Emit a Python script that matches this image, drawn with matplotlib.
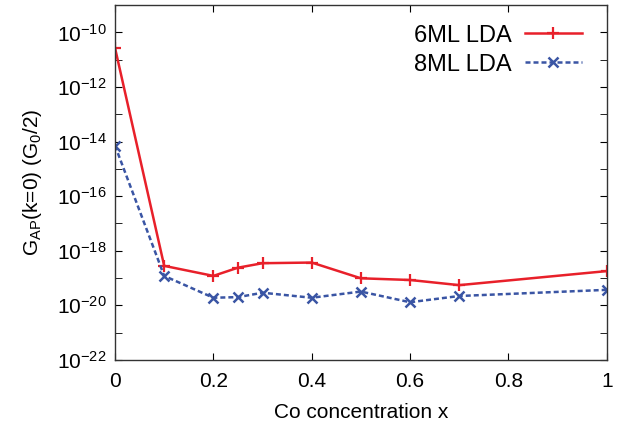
import numpy as np
import matplotlib
matplotlib.use("Agg")
import matplotlib.pyplot as plt
from matplotlib.ticker import FixedLocator, NullFormatter

plt.rcParams['font.family'] = ['Liberation Sans', 'DejaVu Sans']

# Co concentration
x = [0.0, 0.1, 0.2, 0.25, 0.3, 0.4, 0.5, 0.6, 0.7, 1.0]
# G_AP(k=0) in units of G0/2
g_6ml = [2.7e-11, 2.8e-19, 1.2e-19, 2.4e-19, 3.5e-19, 3.7e-19, 9.8e-20, 8.5e-20, 5.5e-20, 1.8e-19]
g_8ml = [7.1e-15, 1.2e-19, 1.9e-20, 2.0e-20, 2.9e-20, 1.9e-20, 3.2e-20, 1.3e-20, 2.2e-20, 3.7e-20]

fig = plt.figure(figsize=(6.32, 4.29), dpi=100)
ax = fig.add_axes([0.182, 0.161, 0.778, 0.827])

ax.plot(x, g_6ml, color='#e8202a', lw=1.8, marker='+', ms=9, mew=1.6, label='6ML LDA')
ax.plot(x, g_8ml, color='#3a55a4', lw=1.8, ls=(0, (2, 1.2)), marker='x', ms=7, mew=1.8, label='8ML LDA')

ax.set_yscale('log')
ax.set_xlim(0, 1)
ax.set_ylim(1e-22, 1e-9)

ax.set_xticks([0, 0.2, 0.4, 0.6, 0.8, 1.0])
ax.set_xticklabels(['0', '0.2', '0.4', '0.6', '0.8', '1'])
major = [10.0**e for e in range(-22, -9, 2)]
minor = [10.0**e for e in range(-21, -9, 2)]
ax.yaxis.set_major_locator(FixedLocator(major))
ax.yaxis.set_minor_locator(FixedLocator(minor))
ax.yaxis.set_minor_formatter(NullFormatter())
ax.set_yticklabels([r'$\mathregular{10^{%d}}$' % e for e in range(-22, -9, 2)])

ax.tick_params(which='both', direction='in', top=True, right=True, labelsize=15)
ax.tick_params(axis='x', pad=9)
ax.tick_params(axis='y', pad=6)
ax.tick_params(which='major', length=5)
ax.tick_params(which='minor', length=5)
for s in ax.spines.values():
    s.set_linewidth(1.0)
    s.set_color('#333333')

ax.set_xlabel('Co concentration x', fontsize=15, labelpad=8)
ax.set_ylabel(r'$\mathregular{G_{AP}}$(k=0) ($\mathregular{G_0}$/2)', fontsize=15, labelpad=9)

ax.legend(loc='upper right', bbox_to_anchor=(0.949, 0.945), frameon=False, markerfirst=False,
          fontsize=17, borderpad=0, borderaxespad=0,
          handlelength=2.4, labelspacing=0.3, handletextpad=0.55)

fig.savefig('out.png', dpi=100)
